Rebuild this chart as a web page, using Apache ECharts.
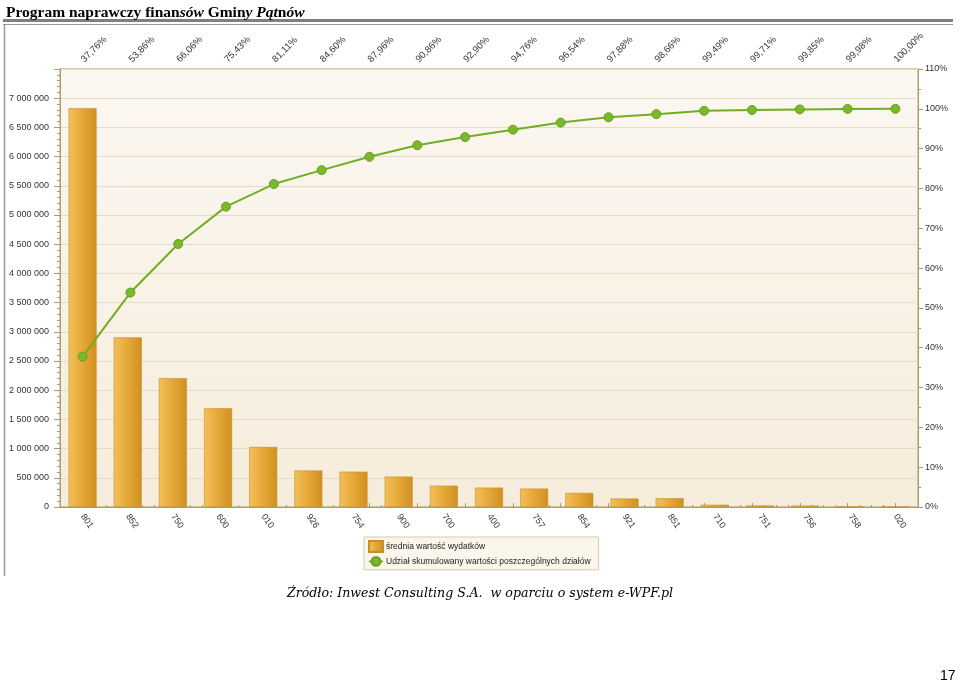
<!DOCTYPE html>
<html><head><meta charset="utf-8">
<script src="https://cdn.jsdelivr.net/npm/echarts@6/dist/echarts.min.js"></script>
<style>html,body{margin:0;padding:0;background:#fff}#c{width:960px;height:684px}</style>
</head><body><div id="c"></div>
<script>
const categories = ['801','852','750','600','010','926','754','900','700','400','757','854','921','851','710','751','756','758','020'];
const expenses = [6830000,2905000,2206000,1690000,1027000,625000,605000,520000,365000,332000,315000,242000,145000,150000,38000,26000,24000,4000,0];
const cumulativeLabels = ['37,76%','53,86%','66,06%','75,43%','81,11%','84,60%','87,96%','90,86%','92,90%','94,76%','96,54%','97,88%','98,66%','99,49%','99,71%','99,85%','99,98%','100,00%'];
const cumulativeValues = [37.76,53.86,66.06,75.43,81.11,84.60,87.96,90.86,92.90,94.76,96.54,97.88,98.66,99.49,99.71,99.85,99.98,100.00];
const leftTicks = {min:0, max:7500000, interval:500000};
const rightTicks = {min:0, max:110, interval:10};

const chart = echarts.init(document.getElementById('c'), null, {renderer:'canvas'});
const axisCol = '#a89c70';
const labelFont = {fontFamily:'Liberation Sans', fontSize:9, color:'#333'};
const fmtSpace = v => String(v).replace(/\B(?=(\d{3})+(?!\d))/g, ' ');
const GL = 60, GR = 960-918, GT = 69, GB = 684-507;
const catW = (918-60)/categories.length;

chart.setOption({
  backgroundColor:'#fff',
  animation:false,
  title:{
    left:1, top:0,
    text:'{b|Program naprawczy finan}{bi|sów}{b| Gmin}{bi|y Pąt}{b|n}{bi|ów}',
    textStyle:{rich:{
      b:{fontFamily:'Liberation Serif', fontWeight:'bold', fontSize:15.5, color:'#000'},
      bi:{fontFamily:'Liberation Serif', fontWeight:'bold', fontStyle:'italic', fontSize:15.5, color:'#000'}
    }}
  },
  graphic:[
    {type:'line', shape:{x1:3,y1:20.5,x2:953,y2:20.5}, style:{stroke:'#7f7f7f', lineWidth:3}},
    {type:'line', shape:{x1:3,y1:24.5,x2:953,y2:24.5}, style:{stroke:'#9a9a9a', lineWidth:1}},
    {type:'line', shape:{x1:4.5,y1:25,x2:4.5,y2:576}, style:{stroke:'#9a9a9a', lineWidth:1.5}},
    {type:'text', left:'center', top:587, style:{text:'Źródło: Inwest Consulting S.A.  w oparciu o system e-WPF.pl', fontFamily:'DejaVu Serif', fontStyle:'italic', fontSize:12.6, fill:'#000'}},
    {type:'text', left:940, top:669, style:{text:'17', fontFamily:'Liberation Sans', fontSize:14, fill:'#000'}}
  ],
  legend:{
    left:364, top:537, orient:'vertical', padding:[3,8,3,4], itemGap:3,
    backgroundColor:'#fbf6ec', borderColor:'#d6cbb0', borderWidth:1, borderRadius:0,
    itemWidth:14, itemHeight:11,
    textStyle:{fontFamily:'Liberation Sans', fontSize:8.5, color:'#222', padding:[0,0,0,-2]},
    data:[{name:'średnia wartość wydatków', icon:'rect'}, {name:'Udział skumulowany wartości poszczególnych działów'}]
  },
  grid:[
    {left:GL, right:GR, top:GT, bottom:GB, show:true, borderColor:axisCol, borderWidth:1,
      backgroundColor:new echarts.graphic.LinearGradient(0,0,0,1,[{offset:0,color:'#fbf8f2'},{offset:1,color:'#f6ecdb'}])},
    {left:GL+catW/2, right:GR+catW/2, top:GT, bottom:GB}
  ],
  xAxis:[
    {type:'category', gridIndex:0, data:categories, position:'bottom',
      axisLine:{lineStyle:{color:axisCol}}, axisTick:{alignWithLabel:true, length:4, lineStyle:{color:axisCol}},
      axisLabel:Object.assign({rotate:-55, margin:8, interval:0}, labelFont)},
    {type:'value', gridIndex:1, position:'top', min:0, max:cumulativeValues.length-1, interval:1,
      axisLine:{show:false}, splitLine:{show:false},
      axisTick:{show:true, length:4, lineStyle:{color:axisCol}},
      minorTick:{show:true, splitNumber:4, length:2, lineStyle:{color:axisCol}},
      axisLabel:Object.assign({rotate:45, margin:8}, labelFont, {fontSize:9.5, formatter:v=>cumulativeLabels[v]||''})}
  ],
  yAxis:[
    {type:'value', gridIndex:0, position:'left', min:leftTicks.min, max:leftTicks.max, interval:leftTicks.interval,
      axisLine:{show:true, lineStyle:{color:axisCol}},
      axisTick:{show:true, length:6, lineStyle:{color:axisCol}},
      minorTick:{show:true, splitNumber:5, length:3, lineStyle:{color:axisCol}},
      splitLine:{show:true, lineStyle:{color:'#e6dcc6', width:1}},
      axisLabel:Object.assign({margin:11, showMaxLabel:false, formatter:v=>v>=leftTicks.max?'':fmtSpace(v)}, labelFont)},
    {type:'value', gridIndex:0, position:'right', min:rightTicks.min, max:rightTicks.max, interval:rightTicks.interval,
      axisLine:{show:true, lineStyle:{color:axisCol}},
      axisTick:{show:true, length:5, lineStyle:{color:axisCol}},
      minorTick:{show:true, splitNumber:2, length:3, lineStyle:{color:axisCol}},
      splitLine:{show:false},
      axisLabel:Object.assign({margin:7, formatter:'{value}%'}, labelFont)},
    {type:'value', gridIndex:1, min:rightTicks.min, max:rightTicks.max, show:false}
  ],
  series:[
    {name:'średnia wartość wydatków', type:'bar', xAxisIndex:0, yAxisIndex:0, data:expenses, barWidth:28,
      itemStyle:{color:new echarts.graphic.LinearGradient(0,0,1,0,[{offset:0,color:'#f2c05a'},{offset:0.45,color:'#e7aa3a'},{offset:1,color:'#cf9020'}]),
        borderColor:'#c58e28', borderWidth:0.6}},
    {name:'Udział skumulowany wartości poszczególnych działów', type:'line', xAxisIndex:1, yAxisIndex:2,
      data:cumulativeValues.map((v,i)=>[i,v]), symbol:'circle', symbolSize:9,
      lineStyle:{color:'#72ad22', width:2}, itemStyle:{color:'#7ab82c', borderColor:'#6aa020', borderWidth:1}}
  ]
});
</script></body></html>
